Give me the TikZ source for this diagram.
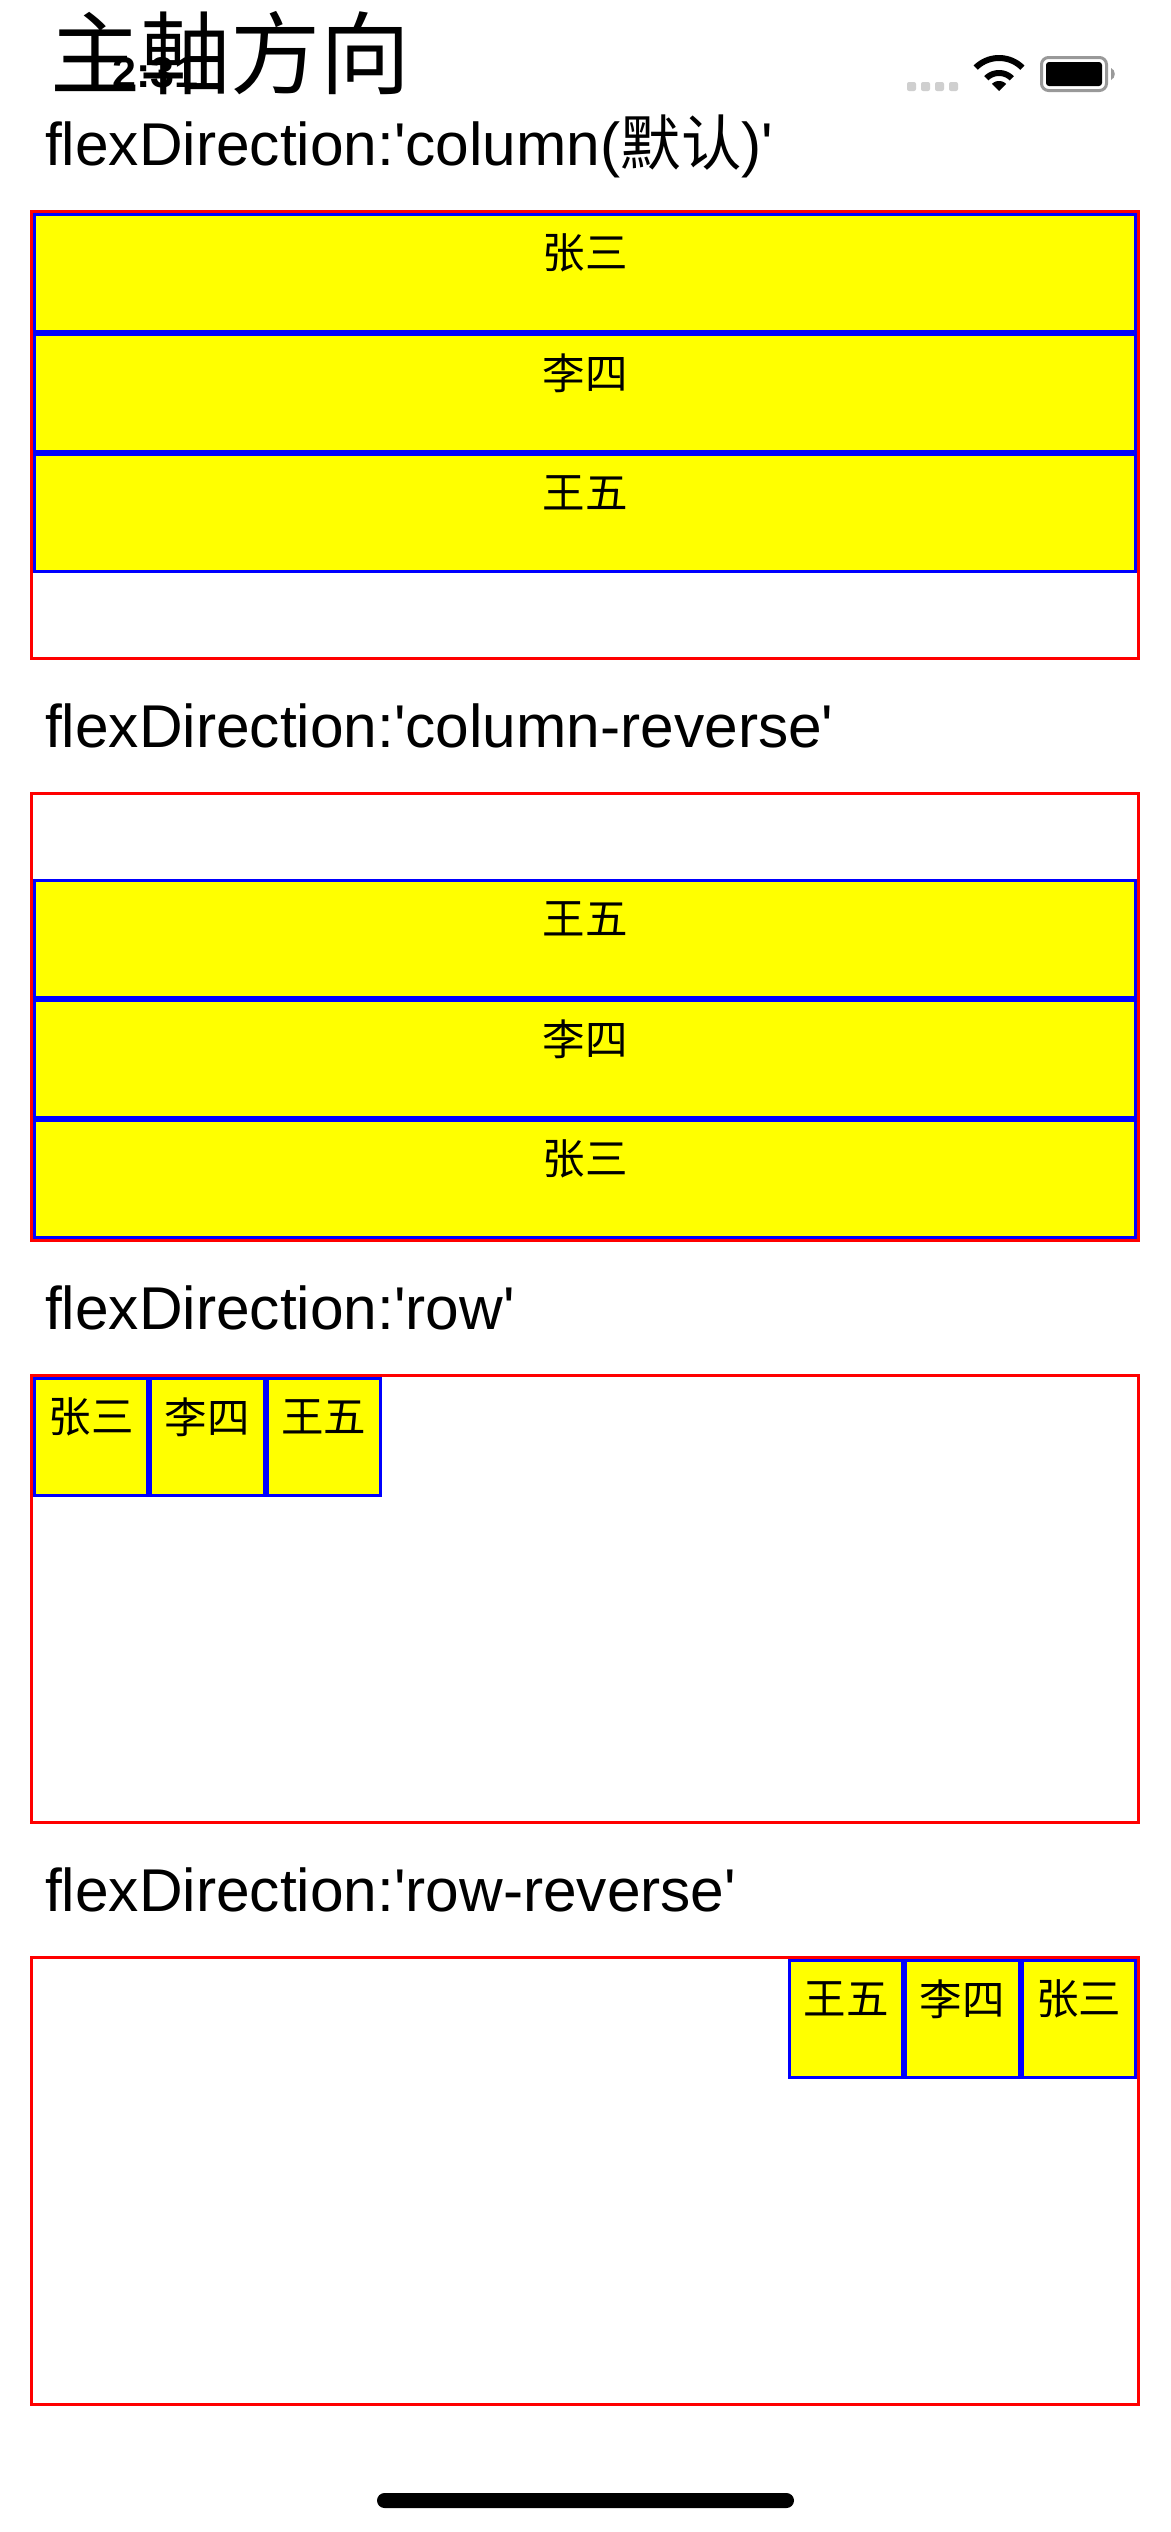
\documentclass[tikz,border=0pt]{standalone}
\usepackage{fontspec}
\setmainfont{Liberation Sans}
\newfontfamily\headf{Liberation Sans}
\newfontfamily\cjkf{Noto Sans CJK SC}
\definecolor{pureRed}{RGB}{255,0,0}
\definecolor{pureBlue}{RGB}{0,0,255}
\definecolor{pureYellow}{RGB}{255,255,0}
\definecolor{dotGray}{RGB}{207,207,207}
\definecolor{batGray}{RGB}{153,153,153}
\tikzset{
  x=1pt,y=-1pt,
  outerbox/.style={draw=pureRed,line width=3pt,inner sep=0,outer sep=0,anchor=north west},
  itembox/.style={draw=pureBlue,fill=pureYellow,line width=3pt,inner sep=0,outer sep=0,anchor=north west},
  itemtext/.style={inner sep=0,font=\cjkf\fontsize{42.5}{42.5}\selectfont,text=black},
  headtext/.style={inner sep=0,anchor=base west,font=\headf\fontsize{60.4}{60.4}\selectfont,text=black},
  titletext/.style={inner sep=0,anchor=base west,font=\cjkf\fontsize{90}{90}\selectfont,text=black},
  timetext/.style={inner sep=0,anchor=base west,font=\headf\bfseries\fontsize{43}{43}\selectfont,text=black},
  sdot/.style={fill=dotGray,rounded corners=2pt},
}
\newcommand{\outerb}[2]{\node[outerbox,minimum width=1107pt,minimum height=447pt] (#1) at (31.5,#2) {};}
\newcommand{\itemb}[6]{% name x1 y1 w h text
  \node[itembox,minimum width=#4pt,minimum height=#5pt] (#1) at (#2,#3) {};
  \node[itemtext] (#1t) at ([yshift=-38.5pt]#1.north) {#6};}
\newcommand{\wifiband}[2]{\fill[black] plot[domain=45:135,samples=24] ({999+#2*cos(\x)},{91-#2*sin(\x)}) -- plot[domain=135:45,samples=24] ({999+#1*cos(\x)},{91-#1*sin(\x)}) -- cycle;}
\begin{document}
\begin{tikzpicture}
\useasboundingbox (0,0) rectangle (1170,2532);
\fill[white] (0,0) rectangle (1170,2532);
% title and status bar
\node[titletext] (title) at (50,87) {主軸方向};
\node[timetext] (time) at (112,87) {2:31};
\foreach \i in {0,1,2,3} \fill[sdot] ({907+14*\i},82) rectangle ({916+14*\i},91);
\wifiband{30}{36}
\wifiband{15}{21}
\wifiband{0}{10}
\draw[batGray,line width=3pt,rounded corners=7pt] (1041.5,57.5) rectangle (1106.5,90.5);
\fill[black,rounded corners=3pt] (1046,62) rectangle (1102,86);
\fill[batGray] (1111,68) .. controls (1116,70) and (1116,78) .. (1111,80) -- cycle;
% headings
\node[headtext] (h1) at (45,165) {flexDirection:'column({\cjkf 默认})'};
\node[headtext] (h2) at (45,747) {flexDirection:'column-reverse'};
\node[headtext] (h3) at (45,1329) {flexDirection:'row'};
\node[headtext] (h4) at (45,1911) {flexDirection:'row-reverse'};
% containers
\outerb{c1}{211.5}
\outerb{c2}{793.5}
\outerb{c3}{1375.5}
\outerb{c4}{1957.5}
% column
\itemb{a1}{34.5}{214.5}{1101}{117}{张三}
\itemb{a2}{34.5}{334.5}{1101}{117}{李四}
\itemb{a3}{34.5}{454.5}{1101}{117}{王五}
% column-reverse
\itemb{b3}{34.5}{880.5}{1101}{117}{王五}
\itemb{b2}{34.5}{1000.5}{1101}{117}{李四}
\itemb{b1}{34.5}{1120.5}{1101}{117}{张三}
% row
\itemb{r1}{34.5}{1378.5}{113.3}{117}{张三}
\itemb{r2}{150.8}{1378.5}{113.3}{117}{李四}
\itemb{r3}{267.2}{1378.5}{113.3}{117}{王五}
% row-reverse
\itemb{s3}{789.5}{1960.5}{113.3}{117}{王五}
\itemb{s2}{905.8}{1960.5}{113.3}{117}{李四}
\itemb{s1}{1022.2}{1960.5}{113.3}{117}{张三}
% home bar
\fill[black,rounded corners=7.5pt] (377,2493) rectangle (794,2508);
\end{tikzpicture}
\end{document}
